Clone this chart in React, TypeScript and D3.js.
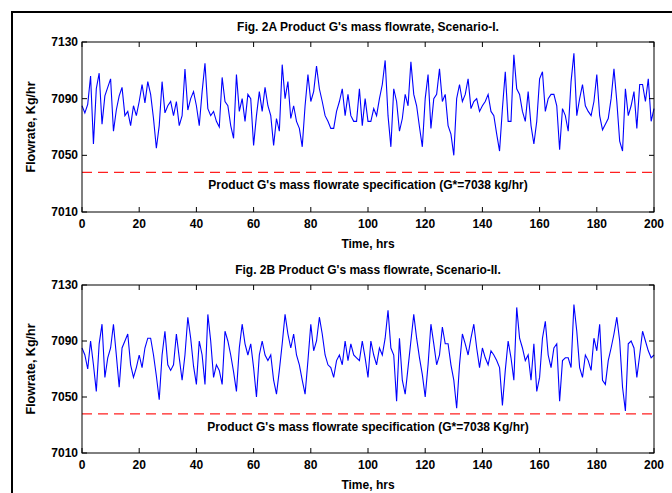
import React from 'react'
import * as d3 from 'd3'

// hourly readings, Kg/hr, t = 0..200
const flowA = [
  7085, 7080, 7086, 7106, 7058, 7097, 7108, 7072, 7092, 7098, 7104, 7067, 7082, 7092, 7098, 7078, 7081, 7071, 7085, 7078,
  7088, 7100, 7087, 7102, 7093, 7076, 7055, 7071, 7102, 7080, 7085, 7088, 7078, 7088, 7071, 7078, 7111, 7082, 7090, 7095,
  7085, 7071, 7095, 7115, 7083, 7078, 7081, 7074, 7070, 7105, 7088, 7085, 7071, 7062, 7107, 7081, 7090, 7074, 7093, 7090,
  7057, 7078, 7095, 7081, 7098, 7085, 7078, 7057, 7076, 7067, 7114, 7090, 7102, 7076, 7085, 7074, 7069, 7056, 7085, 7107,
  7088, 7095, 7113, 7097, 7088, 7078, 7074, 7069, 7069, 7081, 7088, 7097, 7078, 7093, 7078, 7074, 7074, 7097, 7071, 7090,
  7074, 7074, 7083, 7078, 7090, 7100, 7117, 7078, 7056, 7097, 7088, 7067, 7076, 7093, 7085, 7116, 7093, 7085, 7070, 7056,
  7090, 7107, 7069, 7090, 7093, 7111, 7088, 7093, 7071, 7065, 7050, 7090, 7100, 7088, 7093, 7104, 7083, 7088, 7090, 7081,
  7085, 7088, 7093, 7081, 7078, 7065, 7053, 7083, 7109, 7074, 7074, 7121, 7097, 7093, 7081, 7074, 7095, 7071, 7058, 7074,
  7104, 7109, 7081, 7090, 7093, 7093, 7085, 7054, 7083, 7078, 7067, 7102, 7122, 7078, 7090, 7100, 7085, 7081, 7078, 7088,
  7107, 7078, 7068, 7072, 7076, 7090, 7111, 7088, 7060, 7053, 7097, 7078, 7085, 7095, 7069, 7100, 7100, 7088, 7104, 7074,
  7083,
]

const flowB = [
  7085, 7080, 7070, 7090, 7073, 7054, 7088, 7102, 7064, 7078, 7085, 7102, 7080, 7057, 7085, 7090, 7095, 7073, 7064, 7071,
  7080, 7071, 7085, 7092, 7092, 7080, 7065, 7048, 7080, 7097, 7073, 7069, 7073, 7095, 7078, 7062, 7080, 7107, 7092, 7072,
  7059, 7090, 7080, 7059, 7109, 7090, 7064, 7073, 7069, 7059, 7097, 7090, 7080, 7068, 7054, 7085, 7102, 7088, 7080, 7088,
  7071, 7050, 7080, 7090, 7080, 7076, 7080, 7062, 7052, 7069, 7088, 7109, 7095, 7085, 7095, 7080, 7073, 7062, 7052, 7076,
  7102, 7083, 7090, 7107, 7095, 7080, 7073, 7071, 7064, 7076, 7080, 7073, 7090, 7076, 7088, 7080, 7078, 7076, 7090, 7078,
  7064, 7090, 7080, 7073, 7085, 7080, 7092, 7112, 7085, 7080, 7047, 7092, 7062, 7052, 7071, 7090, 7109, 7092, 7078, 7066,
  7050, 7073, 7102, 7088, 7073, 7080, 7100, 7088, 7088, 7073, 7062, 7042, 7073, 7095, 7088, 7080, 7092, 7102, 7085, 7071,
  7085, 7078, 7073, 7083, 7080, 7076, 7071, 7044, 7069, 7090, 7078, 7062, 7114, 7092, 7085, 7076, 7080, 7062, 7088, 7054,
  7064, 7092, 7104, 7080, 7071, 7085, 7088, 7047, 7076, 7078, 7078, 7071, 7116, 7097, 7071, 7064, 7080, 7076, 7069, 7092,
  7083, 7102, 7062, 7059, 7076, 7085, 7095, 7107, 7090, 7057, 7040, 7088, 7090, 7085, 7064, 7080, 7097, 7090, 7083, 7078,
  7080,
]

const spec = 7038
const xTicks = [0, 20, 40, 60, 80, 100, 120, 140, 160, 180, 200]
const yTicks = [7010, 7050, 7090, 7130]

const panels = [
  {
    title: "Fig. 2A Product G's mass flowrate, Scenario-I.",
    note: "Product G's mass flowrate specification (G*=7038 kg/hr)",
    data: flowA,
    top: 42,
    bottom: 212,
  },
  {
    title: "Fig. 2B Product G's mass flowrate, Scenario-II.",
    note: "Product G's mass flowrate specification (G*=7038 Kg/hr)",
    data: flowB,
    top: 285,
    bottom: 453,
  },
]

const left = 82
const right = 654
const font = 'Liberation Sans, Arial, sans-serif'

function Panel({p}) {
  const x = d3.scaleLinear().domain([0, 200]).range([left, right])
  const y = d3.scaleLinear().domain([7010, 7130]).range([p.bottom, p.top])
  const line = d3.line().x((d, i) => x(i)).y(d => y(d))
  const cx = (left + right) / 2
  const tk = 5

  return (
    <g fontFamily={font} fontWeight="bold" fontSize={12} fill="#000">
      <text x={cx} y={p.top - 11} textAnchor="middle">{p.title}</text>
      <path d={line(p.data)} fill="none" stroke="#0000ff" strokeWidth={1.1} />
      <line x1={left} x2={right} y1={y(spec)} y2={y(spec)} stroke="#ff2020" strokeWidth={1.2} strokeDasharray="10,6" />
      <text x={cx} y={y(spec) + 17} textAnchor="middle">{p.note}</text>
      <rect x={left} y={p.top} width={right - left} height={p.bottom - p.top} fill="none" stroke="#000" strokeWidth={1} />
      {xTicks.map(t => (
        <g key={'x' + t}>
          <line x1={x(t)} x2={x(t)} y1={p.bottom} y2={p.bottom - tk} stroke="#000" />
          <line x1={x(t)} x2={x(t)} y1={p.top} y2={p.top + tk} stroke="#000" />
          <text x={x(t)} y={p.bottom + 16} textAnchor="middle">{t}</text>
        </g>
      ))}
      {yTicks.map(t => (
        <g key={'y' + t}>
          <line x1={left} x2={left + tk} y1={y(t)} y2={y(t)} stroke="#000" />
          <line x1={right} x2={right - tk} y1={y(t)} y2={y(t)} stroke="#000" />
          <text x={left - 4} y={y(t) + 4} textAnchor="end">{t}</text>
        </g>
      ))}
      <text x={cx} y={p.bottom + 36} textAnchor="middle">Time, hrs</text>
      <text transform={`translate(35,${(p.top + p.bottom) / 2}) rotate(-90)`} textAnchor="middle" fontSize={12.5}>Flowrate, Kg/hr</text>
    </g>
  )
}

export default function App() {
  return (
    <svg width={672} height={493} style={{position: 'absolute', left: 0, top: 0, background: '#fff'}}>
      <rect x={0} y={0} width={672} height={493} fill="#fff" />
      <rect x={12} y={12} width={700} height={520} fill="none" stroke="#000" strokeWidth={2} />
      {panels.map((p, i) => <Panel key={i} p={p} />)}
    </svg>
  )
}
